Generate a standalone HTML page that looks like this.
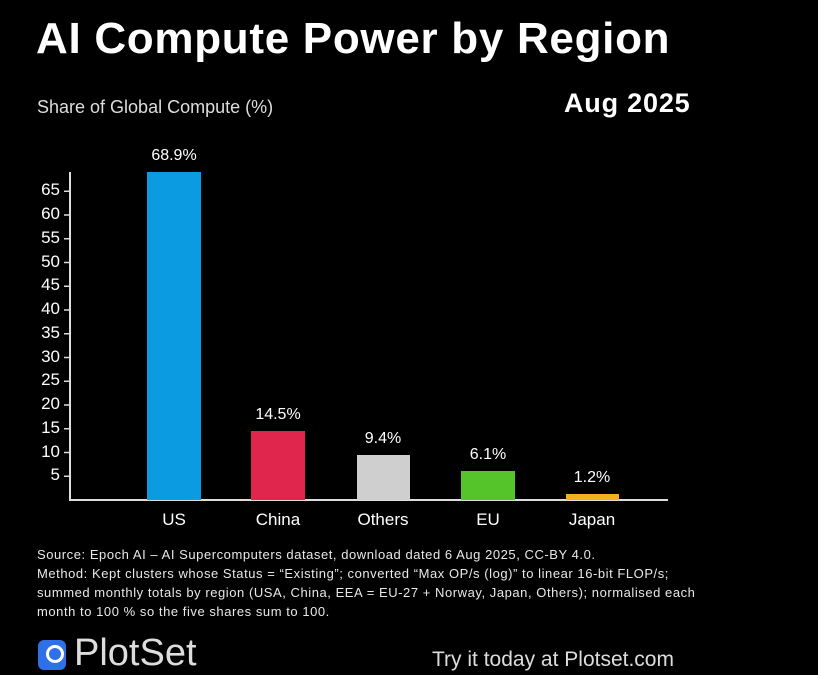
<!DOCTYPE html>
<html><head><meta charset="utf-8"><style>
body{margin:0;background:#000;width:818px;height:665px;overflow:hidden;position:relative;font-family:"Liberation Sans",sans-serif;color:#fff}
.a{position:absolute;white-space:nowrap}
.t{left:36px;top:14px;font-size:44px;font-weight:bold;letter-spacing:0.7px}
.yl{font-size:17px;text-align:right;width:40px;left:20px}
.v{font-size:16px;text-align:center;width:80px}
.x{font-size:17px;text-align:center;width:100px;top:510px}
.f{left:37px;font-size:13px;color:#e8e8e8;letter-spacing:0.55px}
</style></head><body>
<div class="a t">AI Compute Power by Region</div>
<div class="a" style="left:37px;top:97px;font-size:18px;color:#ddd">Share of Global Compute (%)</div>
<div class="a" style="left:564px;top:88px;font-size:27px;font-weight:bold;letter-spacing:0.8px">Aug 2025</div>
<svg class="a" style="left:0;top:0" width="818" height="665">
<g stroke="#ddd" stroke-width="2">
<line x1="70" y1="172" x2="70" y2="501"/>
<line x1="69" y1="500" x2="668" y2="500"/>
</g>
<g stroke="#ddd" stroke-width="1.5" id="tk"></g>
<rect x="147" y="172" width="54" height="328" fill="#0a9be0"/>
<rect x="251" y="431" width="54" height="69" fill="#e0264d"/>
<rect x="357" y="455" width="53" height="45" fill="#cfcfcf"/>
<rect x="461" y="471" width="54" height="29" fill="#55c42a"/>
<rect x="566" y="494" width="53" height="6" fill="#f0b020"/>
</svg>
<div id="yl"></div>
<div class="a v" style="left:134px;top:147px">68.9%</div>
<div class="a v" style="left:238px;top:406px">14.5%</div>
<div class="a v" style="left:343px;top:430px">9.4%</div>
<div class="a v" style="left:448px;top:446px">6.1%</div>
<div class="a v" style="left:552px;top:469px">1.2%</div>
<div class="a x" style="left:124px">US</div>
<div class="a x" style="left:228px">China</div>
<div class="a x" style="left:333px">Others</div>
<div class="a x" style="left:438px">EU</div>
<div class="a x" style="left:542px">Japan</div>
<div class="a f" style="top:547px">Source: Epoch AI – AI Supercomputers dataset, download dated 6 Aug 2025, CC-BY 4.0.</div>
<div class="a f" style="top:566px">Method: Kept clusters whose Status = “Existing”; converted “Max OP/s (log)” to linear 16-bit FLOP/s;</div>
<div class="a f" style="top:585px">summed monthly totals by region (USA, China, EEA = EU-27 + Norway, Japan, Others); normalised each</div>
<div class="a f" style="top:604px">month to 100 % so the five shares sum to 100.</div>
<div class="a" style="left:38px;top:640px;width:28px;height:30px;background:#2f6fe8;border-radius:6px"></div>
<div class="a" style="left:46px;top:645px;width:12px;height:12px;border:3px solid #fff;border-radius:50%"></div>
<div class="a" style="left:74px;top:632px;font-size:38px;color:#ddd">PlotSet</div>
<div class="a" style="left:432px;top:648px;font-size:21px;color:#ddd">Try it today at Plotset.com</div>
<script>
var g=document.getElementById('tk'),h='',s='';
for(var v=5;v<=65;v+=5){var y=500-v*4.75;h+='<line x1="64" y1="'+y+'" x2="70" y2="'+y+'"/>';
s+='<div class="a yl" style="top:'+(y-11)+'px">'+v+'</div>';}
g.innerHTML=h;document.getElementById('yl').innerHTML=s;
</script>
</body></html>
